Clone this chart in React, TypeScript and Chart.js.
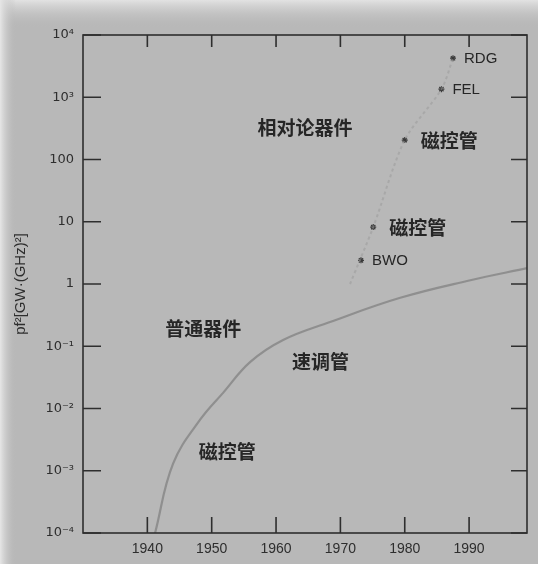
import { useEffect, useRef } from 'react';
import { Chart, registerables } from 'chart.js';

Chart.register(...registerables);

// Axis ticks
const yTickValues = [1e-4, 1e-3, 1e-2, 1e-1, 1, 10, 100, 1e3, 1e4];
const yTickLabels = ['10⁻⁴', '10⁻³', '10⁻²', '10⁻¹', '1', '10', '100', '10³', '10⁴'];
const xTickValues = [1940, 1950, 1960, 1970, 1980, 1990];
const xTickLabels = ['1940', '1950', '1960', '1970', '1980', '1990'];

// Conventional-device envelope curve (year, pf²)
const conventionalYears = [1941.2, 1944.0, 1948.2, 1951.8, 1956.0, 1961.1, 1968.4, 1979.3, 1990.2, 1999];
const conventionalPf2 = [1e-4, 1.3e-3, 6.6e-3, 0.018, 0.056, 0.126, 0.245, 0.6, 1.15, 1.8];

// Relativistic-device trend (faint)
const relativisticYears = [1971.5, 1975.1, 1980.0, 1985.7, 1987.5];
const relativisticPf2 = [1.0, 8.2, 205, 1350, 4240];

// Individual devices
const deviceNames = ['BWO', '磁控管', '磁控管', 'FEL', 'RDG'];
const deviceYears = [1973.2, 1975.1, 1980.0, 1985.7, 1987.5];
const devicePf2 = [2.4, 8.2, 205, 1350, 4240];

// Region labels (text, year, pf²)
const regionTexts = ['相对论器件', '普通器件', '速调管', '磁控管'];
const regionYears = [1964.5, 1948.7, 1966.9, 1952.4];
const regionPf2 = [324, 0.19, 0.056, 0.002];

const yTitle = 'pf²[GW·(GHz)²]';

export default function App() {
  const ref = useRef<HTMLCanvasElement | null>(null);

  useEffect(() => {
    const canvas = ref.current;
    if (!canvas) return;

    const bgPlugin = {
      id: 'bg',
      beforeDraw(chart: any) {
        const { ctx, width, height } = chart;
        ctx.save();
        ctx.fillStyle = '#b8b8b8';
        ctx.fillRect(0, 0, width, height);
        const g = ctx.createLinearGradient(0, 0, 0, 28);
        g.addColorStop(0, '#e2e2e2');
        g.addColorStop(1, 'rgba(184,184,184,0)');
        ctx.fillStyle = g;
        ctx.fillRect(0, 0, width, 28);
        const g2 = ctx.createLinearGradient(0, 0, 16, 0);
        g2.addColorStop(0, '#e6e6e6');
        g2.addColorStop(1, 'rgba(184,184,184,0)');
        ctx.fillStyle = g2;
        ctx.fillRect(0, 0, 16, height);
        ctx.restore();
      },
    };

    const framePlugin = {
      id: 'frame',
      afterDatasetsDraw(chart: any) {
        const { ctx, chartArea: a, scales } = chart;
        const x = scales.x;
        const y = scales.y;
        ctx.save();
        ctx.strokeStyle = '#2e2e2e';
        ctx.lineWidth = 1.6;
        ctx.strokeRect(a.left, a.top, a.right - a.left, a.bottom - a.top);
        const L = 16;
        ctx.beginPath();
        xTickValues.forEach((v) => {
          const px = x.getPixelForValue(v);
          ctx.moveTo(px, a.bottom);
          ctx.lineTo(px, a.bottom - L);
          ctx.moveTo(px, a.top);
          ctx.lineTo(px, a.top + L - 4);
        });
        yTickValues.forEach((v) => {
          const py = y.getPixelForValue(v);
          ctx.moveTo(a.left, py);
          ctx.lineTo(a.left + L + 2, py);
          ctx.moveTo(a.right, py);
          ctx.lineTo(a.right - L, py);
        });
        ctx.stroke();

        // labels
        ctx.fillStyle = '#262626';
        ctx.textBaseline = 'middle';
        ctx.font = 'bold 19px "Noto Sans CJK SC"';
        ctx.textAlign = 'center';
        regionTexts.forEach((t, i) => {
          ctx.fillText(t, x.getPixelForValue(regionYears[i]), y.getPixelForValue(regionPf2[i]));
        });
        ctx.textAlign = 'left';
        deviceNames.forEach((t, i) => {
          const ascii = /^[A-Za-z]+$/.test(t);
          ctx.font = ascii ? '15px "Liberation Sans"' : 'bold 19px "Noto Sans CJK SC"';
          const off = ascii ? 11 : 16;
          ctx.fillText(t, x.getPixelForValue(deviceYears[i]) + off, y.getPixelForValue(devicePf2[i]) + 1);
        });
        ctx.restore();
      },
    };

    const chart = new Chart(canvas, {
      type: 'line',
      data: {
        datasets: [
          {
            data: conventionalYears.map((v, i) => ({ x: v, y: conventionalPf2[i] })),
            borderColor: 'rgba(125,125,125,0.7)',
            borderWidth: 2.2,
            pointRadius: 0,
            tension: 0.4,
            fill: false,
          },
          {
            data: relativisticYears.map((v, i) => ({ x: v, y: relativisticPf2[i] })),
            borderColor: 'rgba(155,155,155,0.55)',
            borderWidth: 2,
            borderDash: [3, 3],
            pointRadius: 0,
            tension: 0.3,
            fill: false,
          },
          {
            data: deviceYears.map((v, i) => ({ x: v, y: devicePf2[i] })),
            showLine: false,
            pointStyle: 'star',
            pointRadius: 3,
            borderColor: '#3a3a3a',
            backgroundColor: '#3a3a3a',
            borderWidth: 1.2,
          },
        ],
      },
      options: {
        animation: false,
        responsive: false,
        maintainAspectRatio: false,
        layout: { padding: { left: 0, right: 11, top: 35, bottom: 0 } },
        plugins: { legend: { display: false }, tooltip: { enabled: false } },
        scales: {
          x: {
            type: 'linear',
            min: 1930,
            max: 1999,
            grid: { display: false, drawTicks: false },
            border: { display: false },
            afterBuildTicks: (s: any) => {
              s.ticks = xTickValues.map((v) => ({ value: v }));
            },
            afterFit: (s: any) => {
              s.height = 31;
            },
            ticks: {
              autoSkip: false,
              maxRotation: 0,
              padding: 8,
              color: '#2e2e2e',
              font: { family: 'Liberation Sans', size: 14 },
              callback: (v: any) => {
                const i = xTickValues.indexOf(Number(v));
                return i >= 0 ? xTickLabels[i] : '';
              },
            },
          },
          y: {
            type: 'logarithmic',
            min: 1e-4,
            max: 1e4,
            grid: { display: false, drawTicks: false },
            border: { display: false },
            afterBuildTicks: (s: any) => {
              s.ticks = yTickValues.map((v) => ({ value: v }));
            },
            afterFit: (s: any) => {
              s.width = 83;
            },
            title: {
              display: true,
              text: yTitle,
              color: '#2e2e2e',
              font: { family: 'Liberation Sans', size: 15 },
              padding: { top: 12, bottom: 0 },
            },
            ticks: {
              autoSkip: false,
              padding: 9,
              color: '#2e2e2e',
              font: { family: 'DejaVu Sans', size: 13 },
              callback: (v: any) => {
                const i = yTickValues.findIndex((t) => Math.abs(Math.log10(t) - Math.log10(Number(v))) < 1e-6);
                return i >= 0 ? yTickLabels[i] : '';
              },
            },
          },
        },
      },
      plugins: [bgPlugin, framePlugin],
    });

    return () => chart.destroy();
  }, []);

  return (
    <div style={{ position: 'absolute', left: 0, top: 0, width: 538, height: 564 }}>
      <canvas ref={ref} width={538} height={564} style={{ display: 'block', width: 538, height: 564 }} />
    </div>
  );
}
